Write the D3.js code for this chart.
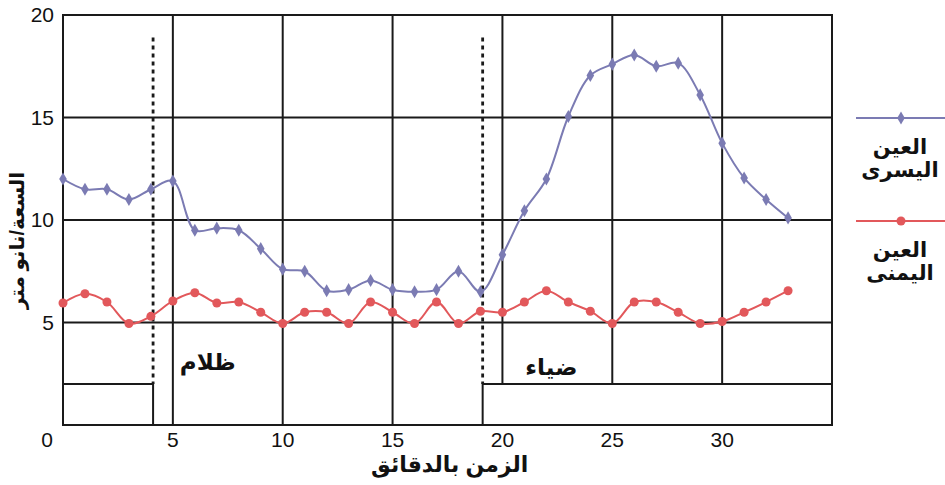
<!DOCTYPE html>
<html><head><meta charset="utf-8">
<script src="https://cdn.jsdelivr.net/npm/d3@7/dist/d3.min.js"></script>
<style>
body{margin:0;background:#fff;}
text{font-family:"Liberation Sans","DejaVu Sans",Arial,sans-serif;fill:#111;}
</style></head>
<body><svg id="c" width="945" height="485"></svg>
<script>
const minutes = [0,1,2,3,4,5,6,7,8,9,10,11,12,13,14,15,16,17,18,19,20,21,22,23,24,25,26,27,28,29,30,31,32,33];
const leftEye  = [12.0,11.5,11.5,11.0,11.5,11.9,9.5,9.6,9.5,8.6,7.6,7.5,6.55,6.6,7.05,6.6,6.5,6.6,7.5,6.5,8.3,10.45,12.0,15.05,17.05,17.6,18.05,17.5,17.65,16.1,13.75,12.05,11.0,10.1];
const rightEye = [5.95,6.4,6.0,4.95,5.3,6.05,6.45,5.95,6.0,5.5,4.95,5.5,5.5,4.95,6.0,5.5,4.95,6.0,4.95,5.55,5.5,6.0,6.55,6.0,5.55,4.95,6.0,6.0,5.5,4.95,5.05,5.5,6.0,6.55];
const xTicks = [5,10,15,20,25,30];
const yTicks = [5,10,15,20];
const darkPeriod = [0,4.1];
const lightPeriod = [19.1,35];
const periodLevel = 2;
const seriesNames = [["العين","اليسرى"],["العين","اليمنى"]];
const colors = ["#7b7bb3","#e2585b"];
const xTitle = "الزمن بالدقائق";
const yTitle = "السعة/نانو متر";
const darkLabel = "ظلام", lightLabel = "ضياء";

const svg = d3.select("#c");
const x = d3.scaleLinear().domain([0,35]).range([63,832]);
const y = d3.scaleLinear().domain([0,20]).range([425,15]);
const ink = "#1a1a1a";
const g = svg.append("g");

// horizontal grid
g.selectAll("line.h").data(yTicks).join("line")
  .attr("x1",x(0)).attr("x2",x(35)).attr("y1",d=>y(d)).attr("y2",d=>y(d))
  .attr("stroke",ink).attr("stroke-width",2);
// vertical grid (stop at light box top if inside light period)
g.selectAll("line.v").data(xTicks).join("line")
  .attr("x1",d=>x(d)).attr("x2",d=>x(d)).attr("y1",y(20))
  .attr("y2",d=> (d>=lightPeriod[0] || d<=darkPeriod[1]) ? y(periodLevel) : y(0))
  .attr("stroke",ink).attr("stroke-width",2);
// frame
g.append("rect").attr("x",x(0)).attr("y",y(20)).attr("width",x(35)-x(0)).attr("height",y(0)-y(20))
  .attr("fill","none").attr("stroke",ink).attr("stroke-width",2);
// period boxes
[darkPeriod,lightPeriod].forEach(p=>{
  g.append("rect").attr("x",x(p[0])).attr("y",y(periodLevel)).attr("width",x(p[1])-x(p[0])).attr("height",y(0)-y(periodLevel))
   .attr("fill","none").attr("stroke",ink).attr("stroke-width",2);
});
// dotted switch lines
[darkPeriod[1], lightPeriod[0]].forEach(v=>{
  g.append("line").attr("x1",x(v)).attr("x2",x(v)).attr("y1",y(18.9)).attr("y2",y(periodLevel))
   .attr("stroke",ink).attr("stroke-width",2.8).attr("stroke-dasharray","4,4");
});
// labels
g.append("text").attr("x",(x(5)+x(10))/2-20).attr("y",y(2.7)).attr("text-anchor","middle").attr("font-size",23).attr("font-weight","bold").text(darkLabel);
g.append("text").attr("x",(x(20)+x(25))/2-6).attr("y",y(2.45)).attr("text-anchor","middle").attr("font-size",23).attr("font-weight","bold").text(lightLabel);

// ticks
g.selectAll("text.yt").data(yTicks).join("text")
  .attr("x",x(0)-9).attr("y",d=>y(d)+7).attr("text-anchor","end").attr("font-size",21).text(d=>d);
g.selectAll("text.xt").data(xTicks).join("text")
  .attr("x",d=>x(d)).attr("y",y(0)+22).attr("text-anchor","middle").attr("font-size",21).text(d=>d);
g.append("text").attr("x",x(0)-16).attr("y",y(0)+22).attr("text-anchor","middle").attr("font-size",21).text(0);

// axis titles
g.append("text").attr("x",x(17.6)).attr("y",472).attr("text-anchor","middle").attr("font-size",22).attr("font-weight","bold").text(xTitle);
g.append("text").attr("transform",`translate(24,${y(9.0)}) rotate(-90)`).attr("text-anchor","middle").attr("font-size",20).attr("font-weight","bold").text(yTitle);

// series
const line = d3.line().x((d,i)=>x(minutes[i])).y(d=>y(d)).curve(d3.curveCatmullRom);
const series = [leftEye,rightEye];
const diamond = d3.symbol().type(d3.symbolDiamond).size(50);
series.forEach((s,k)=>{
  g.append("path").attr("d",line(s)).attr("fill","none").attr("stroke",colors[k]).attr("stroke-width",2);
  if(k===0){
    g.selectAll(null).data(s).join("path").attr("d",diamond)
      .attr("transform",(d,i)=>`translate(${x(minutes[i])},${y(d)})`).attr("fill",colors[k]);
  } else {
    g.selectAll(null).data(s).join("circle").attr("cx",(d,i)=>x(minutes[i])).attr("cy",d=>y(d)).attr("r",4.5).attr("fill",colors[k]);
  }
});

// legend
const legY = [118,221];
series.forEach((s,k)=>{
  const lg = svg.append("g");
  lg.append("line").attr("x1",856).attr("x2",945).attr("y1",legY[k]).attr("y2",legY[k]).attr("stroke",colors[k]).attr("stroke-width",2);
  if(k===0) lg.append("path").attr("d",diamond).attr("transform",`translate(901,${legY[k]})`).attr("fill",colors[k]);
  else lg.append("circle").attr("cx",901).attr("cy",legY[k]).attr("r",4.5).attr("fill",colors[k]);
  seriesNames[k].forEach((t,j)=>{
    lg.append("text").attr("x",900).attr("y",legY[k]+36+j*23).attr("text-anchor","middle").attr("font-size",21).attr("font-weight","bold").text(t);
  });
});
</script></body></html>
